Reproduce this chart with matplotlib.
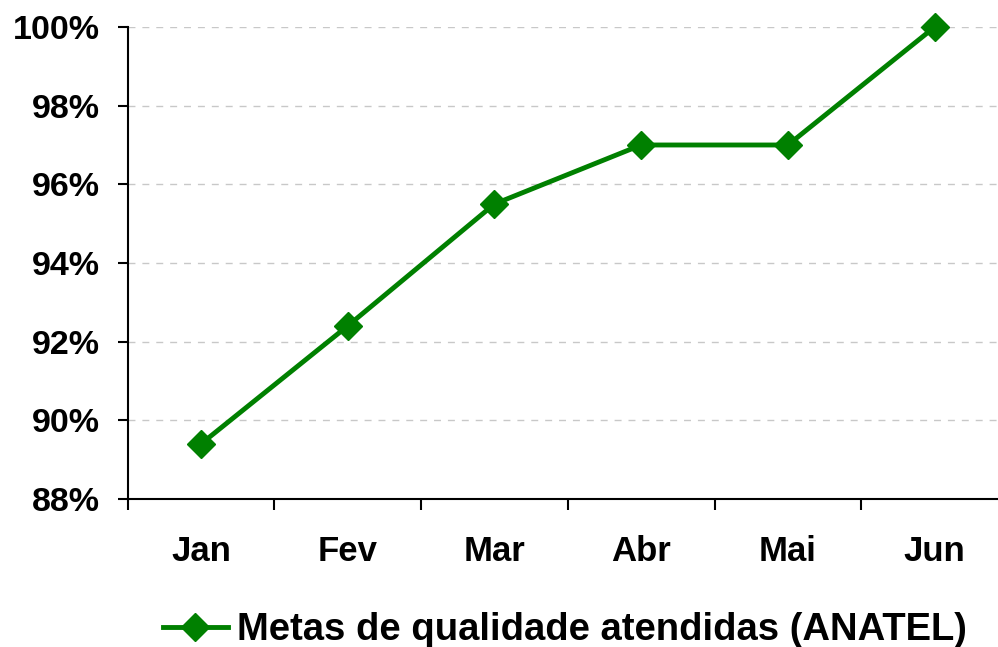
import matplotlib
matplotlib.use("Agg")
import matplotlib.pyplot as plt
import numpy as np

plt.rcParams['font.family'] = ['Liberation Sans', 'DejaVu Sans']
plt.rcParams['font.weight'] = 'bold'

months = ["Jan", "Fev", "Mar", "Abr", "Mai", "Jun"]
metas = [89.4, 92.4, 95.5, 97.0, 97.0, 100.0]
yticks = [88, 90, 92, 94, 96, 98, 100]
label = "Metas de qualidade atendidas (ANATEL)"

fig = plt.figure(figsize=(9.98, 6.47), dpi=100)
ax = fig.add_axes([0.1278, 0.2287, 0.8823, 0.7296])

x = np.arange(len(months))
ax.plot(x, metas, color="#008000", lw=3.5, marker="D", ms=14,
        mfc="#008000", mec="#008000", label=label, clip_on=False, zorder=3)

ax.set_xlim(-0.5, len(months) - 0.5)
ax.set_ylim(88, 100)
ax.set_yticks(yticks)
ax.set_yticklabels([f"{v}%" for v in yticks], fontsize=24.5, fontweight="bold")
ax.grid(axis="y", color="#c8c8c8", ls=(0, (5, 5)), lw=1)
ax.set_axisbelow(True)

# category boundaries as major ticks, labels on minor ticks
ax.set_xticks(np.arange(-0.5, len(months), 1.0))
ax.set_xticklabels([])
ax.set_xticks(x, minor=True)
ax.set_xticklabels(months, minor=True, fontsize=25, fontweight="bold")
ax.tick_params(axis="x", which="major", length=8, width=1.5, direction="out")
ax.tick_params(axis="x", which="minor", length=0, pad=26)
ax.tick_params(axis="y", length=7, width=1.5, direction="out", pad=13)

for s in ["top", "right"]:
    ax.spines[s].set_visible(False)
for s in ["left", "bottom"]:
    ax.spines[s].set_linewidth(1.5)

fig.legend(loc="center", bbox_to_anchor=(565 / 998, 1 - 630 / 647),
           frameon=False, prop={"size": 27.5, "weight": "bold"},
           handlelength=1.7, handletextpad=0.25, borderaxespad=0)

fig.savefig("out.png", dpi=100)
